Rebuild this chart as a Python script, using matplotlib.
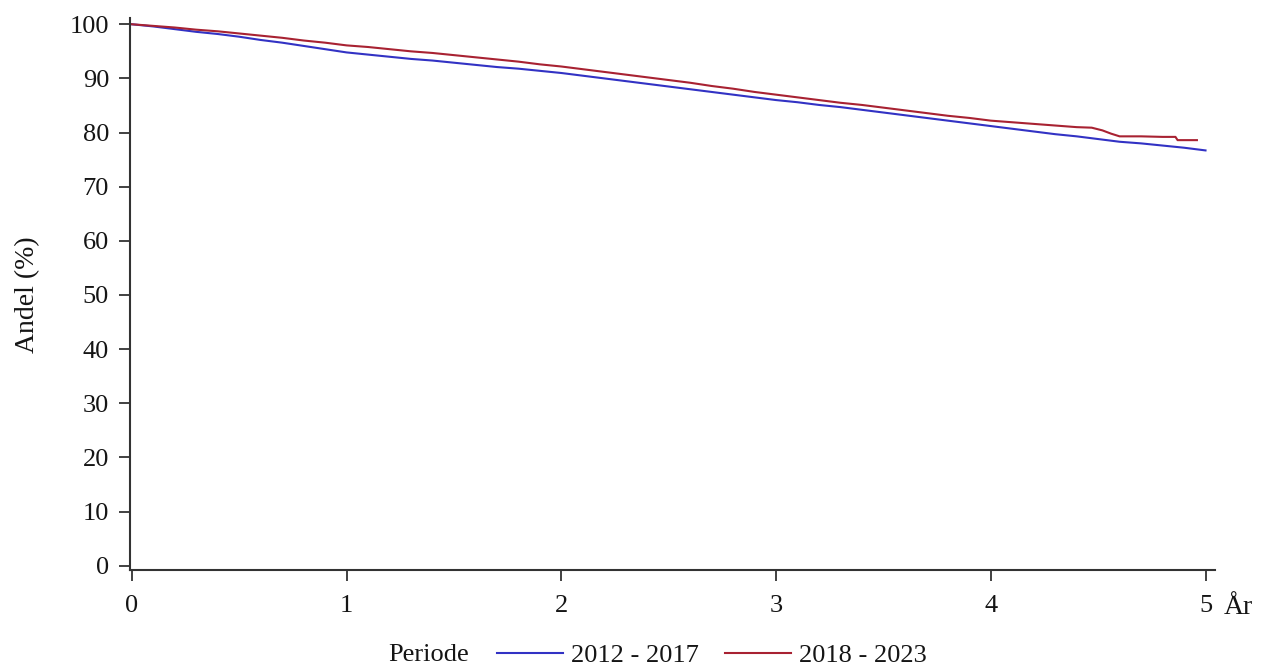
import matplotlib
matplotlib.use("Agg")
import matplotlib.pyplot as plt
from matplotlib.lines import Line2D

plt.rcParams["font.family"] = ["Liberation Serif", "DejaVu Serif"]

# Follow-up time (years) and share still in the cohort (%) for each period
years_2012 = [0.0, 0.1, 0.2, 0.3, 0.4, 0.5, 0.6, 0.7, 0.8, 0.9,
              1.0, 1.1, 1.2, 1.3, 1.4, 1.5, 1.6, 1.7, 1.8, 1.9,
              2.0, 2.1, 2.2, 2.3, 2.4, 2.5, 2.6, 2.7, 2.8, 2.9,
              3.0, 3.1, 3.2, 3.3, 3.4, 3.5, 3.6, 3.7, 3.8, 3.9,
              4.0, 4.1, 4.2, 4.3, 4.4, 4.5, 4.6, 4.7, 4.8, 4.9, 5.0]
share_2012 = [100.0, 99.6, 99.1, 98.6, 98.2, 97.7, 97.1, 96.6, 96.0, 95.4,
              94.8, 94.4, 94.0, 93.6, 93.3, 92.9, 92.5, 92.1, 91.8, 91.4,
              91.0, 90.5, 90.0, 89.5, 89.0, 88.5, 88.0, 87.5, 87.0, 86.5,
              86.0, 85.6, 85.1, 84.7, 84.2, 83.7, 83.2, 82.7, 82.2, 81.7,
              81.2, 80.7, 80.2, 79.7, 79.3, 78.8, 78.3, 78.0, 77.6, 77.2, 76.7]

years_2018 = [0.0, 0.1, 0.2, 0.3, 0.4, 0.5, 0.6, 0.7, 0.8, 0.9,
              1.0, 1.1, 1.2, 1.3, 1.4, 1.5, 1.6, 1.7, 1.8, 1.9,
              2.0, 2.1, 2.2, 2.3, 2.4, 2.5, 2.6, 2.7, 2.8, 2.9,
              3.0, 3.1, 3.2, 3.3, 3.4, 3.5, 3.6, 3.7, 3.8, 3.9,
              4.0, 4.1, 4.2, 4.3, 4.4, 4.47, 4.52, 4.56, 4.6, 4.7, 4.8, 4.86, 4.87, 4.96]
share_2018 = [100.0, 99.7, 99.4, 99.0, 98.7, 98.3, 97.9, 97.5, 97.0, 96.6,
              96.1, 95.8, 95.4, 95.0, 94.7, 94.3, 93.9, 93.5, 93.1, 92.6,
              92.2, 91.7, 91.2, 90.7, 90.2, 89.7, 89.2, 88.6, 88.1, 87.5,
              87.0, 86.5, 86.0, 85.5, 85.1, 84.6, 84.1, 83.6, 83.1, 82.7,
              82.2, 81.9, 81.6, 81.3, 81.0, 80.9, 80.4, 79.8, 79.3, 79.3, 79.2, 79.2, 78.6, 78.6]

period_labels = ["2012 - 2017", "2018 - 2023"]
x_ticks = [0, 1, 2, 3, 4, 5]
y_ticks = [0, 10, 20, 30, 40, 50, 60, 70, 80, 90, 100]

blue = "#3232c4"
red = "#a82232"
axis_col = "#333333"
text_col = "#151515"
fs = 19

fig = plt.figure(figsize=(12.64, 6.66), dpi=100)
ax = fig.add_axes([0.1028, 0.1441, 0.8584, 0.8284])

ax.plot(years_2012, share_2012, color=blue, lw=1.5)
ax.plot(years_2018, share_2018, color=red, lw=1.5)

ax.set_xlim(-0.009, 5.044)
ax.set_ylim(-0.8, 101.1)
ax.set_xticks(x_ticks)
ax.set_yticks(y_ticks)
ax.tick_params(axis="both", direction="out", length=8, width=1.3,
               color=axis_col, labelsize=fs, labelcolor=text_col)
ax.tick_params(axis="y", pad=7)
ax.tick_params(axis="x", pad=10)

for side in ("top", "right"):
    ax.spines[side].set_visible(False)
for side in ("left", "bottom"):
    ax.spines[side].set_linewidth(1.5)
    ax.spines[side].set_color(axis_col)

fig.text(28 / 1264, 1 - 295 / 666, "Andel (%)", rotation=90, fontsize=fs + 1,
         color=text_col, ha="center", va="center")

# unit label to the right of the last x tick
ax.text(5.085, -0.068, "År", transform=ax.get_xaxis_transform(),
        fontsize=fs + 1, color=text_col, ha="left", va="center")

# legend row below the axes
fig.text(429 / 1264, 1 - 655 / 666, "Periode", fontsize=fs, color=text_col,
         ha="center", va="center")
handles = [Line2D([], [], color=blue, lw=1.5), Line2D([], [], color=red, lw=1.5)]
fig.legend(handles, period_labels, loc="center", bbox_to_anchor=(712 / 1264, 1 - 655 / 666),
           ncol=2, frameon=False, fontsize=fs, handlelength=2.5,
           handletextpad=0.3, columnspacing=1.0, borderpad=0, borderaxespad=0,
           labelcolor=text_col)

fig.savefig("out.png", dpi=100, facecolor="white")
